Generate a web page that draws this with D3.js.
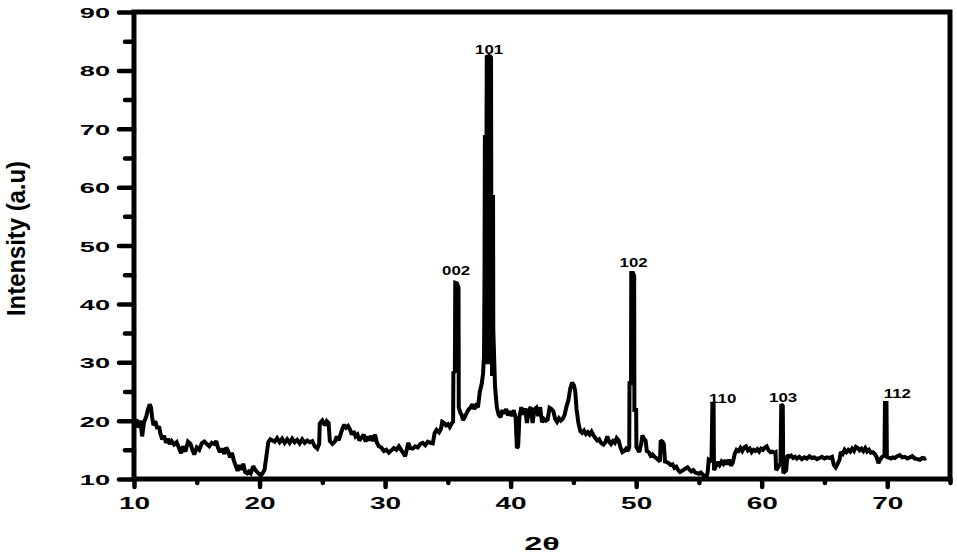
<!DOCTYPE html>
<html><head><meta charset="utf-8">
<script src="https://cdn.jsdelivr.net/npm/d3@7"></script>
<style>html,body{margin:0;padding:0;background:#fff;} svg{display:block;}</style>
</head><body>
<svg id="chart" width="957" height="554"></svg>
<script>
const twoTheta = [10.0,10.2,10.35,10.5,10.65,10.8,10.95,11.1,11.25,11.35,11.45,11.55,11.7,11.85,12.0,12.1,12.25,12.4,12.55,12.7,12.85,13.0,13.2,13.4,13.6,13.75,13.9,14.1,14.3,14.5,14.65,14.8,15.0,15.2,15.4,15.6,15.8,16.0,16.2,16.4,16.55,16.7,16.85,17.0,17.2,17.35,17.5,17.65,17.8,17.95,18.1,18.25,18.4,18.55,18.7,18.85,19.0,19.15,19.3,19.5,19.65,19.8,19.95,20.1,20.25,20.4,20.55,20.7,20.85,
21.2,21.4,21.6,21.8,22.0,22.2,22.4,22.6,22.8,23.0,23.2,23.4,23.6,23.8,24.0,24.2,24.4,24.6,24.75,24.8,25.0,25.2,25.35,25.5,25.6,25.8,26.0,26.15,26.3,26.45,26.6,26.75,26.9,27.05,27.2,27.35,27.5,27.65,27.8,27.95,28.1,28.3,28.45,28.6,28.75,28.9,29.05,29.2,29.35,29.5,29.7,29.9,30.1,30.3,30.5,30.7,30.9,31.1,31.3,31.5,31.6,31.7,31.85,32.0,32.2,32.4,32.6,32.8,33.0,33.2,33.4,33.6,33.8,33.95,34.1,34.3,34.45,34.55,34.7,34.85,35.0,35.15,35.3,
35.42,35.44,35.56,35.59,35.72,35.85,35.87,36.0,36.1,36.2,36.35,36.5,36.65,36.8,36.95,37.1,37.25,37.4,37.55,37.7,37.8,37.88,
37.92,37.95,37.99,38.01,38.04,38.06,38.08,38.1,38.22,38.24,38.32,38.34,38.44,38.46,38.5,38.52,38.55,38.57,38.6,38.62,38.76,
38.9,39.05,39.2,39.35,39.5,39.65,39.8,39.95,40.1,40.25,40.4,40.5,40.6,40.7,40.85,41.0,41.15,41.3,41.45,41.6,41.75,41.9,42.05,42.2,42.35,42.5,42.65,42.8,42.95,43.1,43.25,43.4,43.55,43.7,43.85,44.0,44.15,44.3,44.45,44.6,44.75,44.9,45.05,45.15,45.25,45.4,45.55,45.7,45.85,46.0,46.15,46.3,46.45,46.6,46.75,46.9,47.05,47.2,47.4,47.55,47.7,47.85,48.0,48.15,48.3,48.45,48.6,48.75,48.9,49.05,49.2,49.35,
49.45,49.47,49.59,49.61,49.75,49.84,49.86,50.0,50.02,50.25,50.4,50.5,50.6,50.75,50.85,51.0,51.15,51.3,51.45,51.6,51.75,51.9,51.95,52.1,52.2,52.3,52.45,52.6,52.75,52.9,53.05,53.2,53.35,53.5,53.65,53.8,53.95,54.1,54.25,54.4,54.55,54.7,54.85,55.0,55.15,55.3,55.45,55.6,55.7,
55.78,56.0,56.07,56.17,56.2,56.5,56.65,56.8,56.95,57.1,57.25,57.4,57.55,57.7,57.85,58.0,58.15,58.3,58.45,58.6,58.75,58.9,59.05,59.2,59.35,59.5,59.65,59.8,59.95,60.1,60.25,60.4,60.55,60.7,60.85,61.0,
61.1,61.15,61.3,61.5,61.56,61.68,61.72,61.95,62.05,62.2,62.35,62.5,62.65,62.8,63.0,63.2,63.4,63.6,63.8,64.0,64.2,64.4,64.6,64.8,65.0,65.2,65.4,65.6,65.75,65.9,66.05,66.2,66.3,66.45,66.6,66.75,66.9,67.05,67.2,67.35,67.5,67.65,67.8,67.95,68.1,68.25,68.4,68.55,68.7,68.85,69.0,69.15,69.3,69.45,
69.6,69.78,69.82,69.94,69.97,70.3,70.45,70.6,70.8,71.0,71.2,71.4,71.6,71.8,72.0,72.2,72.4,72.6,72.8,73.0,73.1];
const intensity = [19.5,20.2,18.8,20.0,17.3,19.8,20.5,21.8,22.8,22.3,20.5,19.2,19.9,18.6,19.0,17.8,16.8,17.4,16.2,16.9,16.0,16.5,15.9,16.3,15.2,14.4,15.6,14.7,16.4,16.0,15.0,14.2,15.4,15.0,16.1,16.4,16.0,15.6,16.2,16.0,16.5,15.3,14.6,15.2,14.3,15.4,14.8,13.7,14.5,13.2,12.3,11.4,12.4,11.6,12.6,11.2,11.0,11.3,11.0,12.2,11.6,11.2,10.9,10.6,11.0,11.6,14.0,16.3,16.8,
16.4,17.0,16.3,16.9,16.2,16.8,16.2,16.9,16.3,16.7,16.1,16.8,16.2,16.6,16.3,16.5,15.6,15.2,16.0,19.5,20.0,19.2,19.9,19.6,16.5,16.0,16.4,17.3,16.6,17.6,18.6,19.3,18.8,19.1,18.5,17.6,18.2,17.3,17.6,16.6,17.0,17.6,16.4,17.3,16.6,17.4,16.5,17.6,16.2,15.6,15.4,14.8,15.0,14.5,14.9,15.3,15.0,15.6,14.9,14.3,13.9,14.8,16.2,15.3,15.2,15.6,15.4,16.0,16.2,15.8,16.4,16.2,16.1,17.9,18.4,18.0,18.6,19.8,19.6,19.2,19.4,18.9,19.5,
19.8,28.2,28.4,43.6,43.5,42.8,22.3,21.3,21.0,20.1,20.6,21.3,21.9,22.2,22.8,22.0,22.6,22.3,25.0,26.3,28.0,31.0,
44.6,68.6,68.6,30.0,30.0,68.6,68.6,82.3,82.4,30.0,30.0,82.5,82.2,58.3,58.3,28.0,28.0,58.3,58.3,35.5,25.8,
22.3,21.0,20.6,21.8,21.2,22.0,20.9,21.6,20.8,21.8,20.5,15.3,15.6,20.6,22.3,21.0,22.1,19.6,21.8,22.3,19.6,21.9,22.2,20.8,22.3,19.7,20.3,20.0,20.2,22.2,22.0,21.6,20.3,19.8,20.4,20.0,20.3,21.0,22.4,23.5,25.5,26.5,26.0,25.0,22.0,19.6,18.2,17.9,18.3,17.7,18.0,17.6,18.1,17.5,17.0,16.6,16.8,16.2,15.9,16.3,17.3,16.4,16.0,16.5,16.2,17.0,16.6,15.4,14.6,14.8,15.2,14.8,
15.5,26.4,26.4,45.3,45.3,44.8,21.8,21.8,15.5,14.6,16.0,17.5,17.0,16.6,14.8,14.6,14.0,14.2,13.8,13.6,13.3,13.0,16.6,16.4,16.0,13.0,12.9,12.7,12.4,12.5,11.9,12.1,11.5,11.2,11.4,11.6,11.8,12.0,11.6,11.3,11.5,11.1,11.0,10.9,11.1,10.8,10.4,10.3,11.2,
13.3,13.0,22.7,22.7,11.5,12.9,12.4,13.0,12.6,13.2,12.5,13.3,12.3,12.8,14.3,15.0,14.8,15.3,14.8,15.4,15.6,14.9,15.2,14.6,15.0,14.8,15.1,14.7,15.2,15.0,15.4,15.6,14.9,14.6,14.7,14.5,
14.6,11.5,12.0,12.7,22.8,22.5,11.0,11.5,14.1,13.8,14.0,13.6,13.8,13.5,13.8,13.4,13.7,13.5,13.9,13.6,13.7,13.4,13.6,13.8,13.5,13.7,13.6,13.8,12.4,12.0,12.6,13.3,14.6,14.3,15.0,14.6,15.0,14.7,15.2,14.8,15.5,15.3,14.9,15.2,14.8,15.3,14.7,15.0,14.5,14.6,14.3,13.8,12.7,13.4,
13.8,14.0,23.0,23.0,13.8,13.5,13.7,13.6,13.9,14.1,13.7,13.8,13.5,13.7,13.9,13.5,13.4,13.3,13.6,13.5,13.6];

const xTicks = [10,20,30,40,50,60,70];
const xMinorTicks = [15,25,35,45,55,65,75];
const yTicks = [10,20,30,40,50,60,70,80,90];
const yMinorTicks = [15,25,35,45,55,65,75,85];

const peakLabels = ["002","101","102","110","103","112"];
const peakLabelTheta = [35.66,38.29,49.8,56.89,61.71,70.8];
const peakLabelIntensity = [44.93,82.77,46.35,23.0,23.18,23.87];

const FONT = "'Liberation Sans', Arial, Helvetica, sans-serif";
const svg = d3.select("#chart");
svg.append("rect").attr("width",957).attr("height",554).attr("fill","#fff");

const x = d3.scaleLinear().domain([10,75]).range([134,950]);
const y = d3.scaleLinear().domain([10,90]).range([479,12]);

// minor ticks
const gxm = svg.append("g").attr("transform","translate(0,479)")
  .call(d3.axisBottom(x).tickValues(xMinorTicks).tickSize(4).tickFormat(""));
const gym = svg.append("g").attr("transform","translate(134,0)")
  .call(d3.axisLeft(y).tickValues(yMinorTicks).tickSize(9).tickFormat(""));
// major ticks
const gx = svg.append("g").attr("transform","translate(0,479)")
  .call(d3.axisBottom(x).tickValues(xTicks).tickSize(8).tickFormat(d3.format("d")));
const gy = svg.append("g").attr("transform","translate(134,0)")
  .call(d3.axisLeft(y).tickValues(yTicks).tickSize(15).tickFormat(d3.format("d")));

[gxm,gym,gx,gy].forEach(g=>{
  g.select(".domain").remove();
  g.selectAll(".tick line").attr("stroke","#000").attr("stroke-width",4.5).attr("stroke-linecap","round");
});
gx.selectAll(".tick text")
  .attr("y",0).attr("dy",null)
  .attr("transform","translate(0,30) scale(1.75,1)")
  .attr("font-family",FONT).attr("font-weight","bold").attr("font-size",16).attr("fill","#000");
gy.selectAll(".tick text")
  .attr("x",0).attr("dy",null)
  .attr("transform","translate(-24,5.5) scale(1.75,1)")
  .attr("font-family",FONT).attr("font-weight","bold").attr("font-size",15.5).attr("fill","#000");

// frame
svg.append("rect").attr("x",134).attr("y",12).attr("width",816).attr("height",467)
  .attr("fill","none").attr("stroke","#000").attr("stroke-width",5);

// data line
const data = twoTheta.map((t,i)=>({t, v:intensity[i]}));
svg.append("path").datum(data)
  .attr("fill","none").attr("stroke","#000").attr("stroke-width",4)
  .attr("stroke-linejoin","miter").attr("stroke-miterlimit",2)
  .attr("d", d3.line().x(d=>x(d.t)).y(d=>y(d.v)));

// peak labels
svg.append("g").selectAll("text").data(peakLabels).join("text")
  .attr("transform",(d,i)=>`translate(${x(peakLabelTheta[i])},${y(peakLabelIntensity[i])}) scale(1.35,1)`)
  .attr("text-anchor","middle")
  .attr("font-family",FONT).attr("font-weight","bold").attr("font-size",12.5).attr("fill","#000")
  .text(d=>d);

// axis titles
svg.append("text").attr("transform","translate(542,550) scale(1.8,1)")
  .attr("text-anchor","middle").attr("font-family",FONT).attr("font-weight","bold")
  .attr("font-size",18).attr("fill","#000").text("2θ");
svg.append("text").attr("transform","translate(25,238.5) rotate(-90)")
  .attr("text-anchor","middle").attr("font-family",FONT).attr("font-weight","bold")
  .attr("font-size",26).attr("fill","#000")
  .attr("textLength",155).attr("lengthAdjust","spacingAndGlyphs")
  .text("Intensity (a.u)");
</script>
</body></html>
